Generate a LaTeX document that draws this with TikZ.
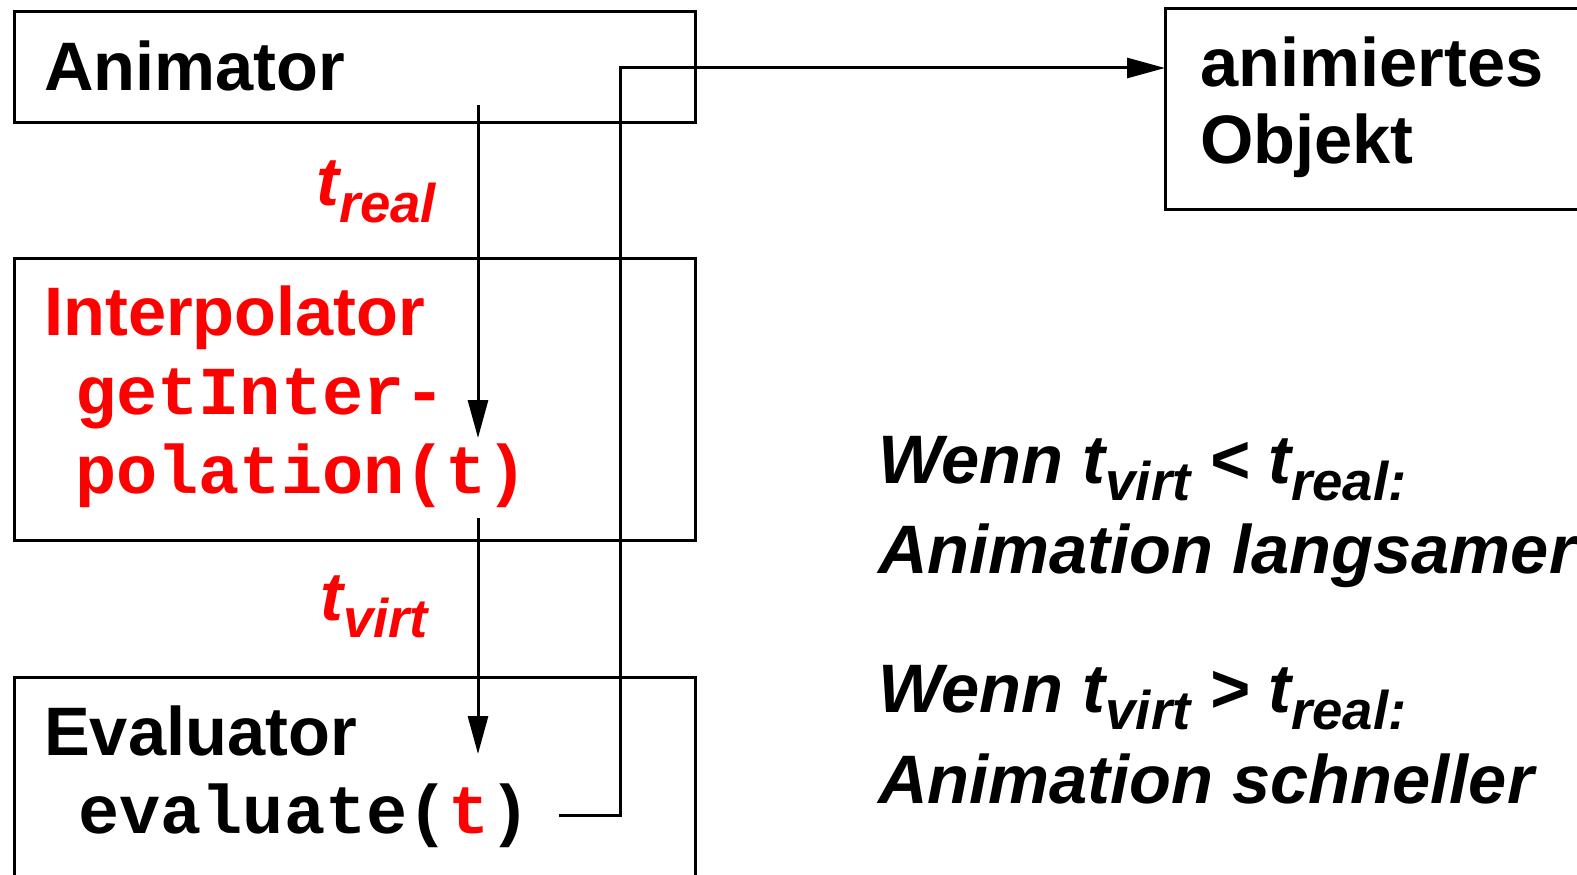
\documentclass[tikz,border=0pt]{standalone}
\usepackage{fontspec}
\setmainfont{Liberation Sans}
\setmonofont{Liberation Mono}
\usetikzlibrary{arrows.meta}
\definecolor{hl}{RGB}{255,0,0}
% type sizes (1 unit = 1pt)
\newcommand{\bigf}{\fontsize{68.6}{78}\selectfont}
\newcommand{\subf}{\fontsize{54.5}{60}\selectfont}
\newcommand{\tsub}[1]{t\raisebox{-17pt}{\subf #1}}
\tikzset{
  box/.style={draw, line width=3pt, anchor=north west, inner sep=0pt, outer sep=0pt},
  txt/.style={anchor=base west, inner sep=0pt, font=\bfseries\bigf},
  itx/.style={anchor=base west, inner sep=0pt, font=\bfseries\itshape\bigf},
  code/.style={anchor=base west, inner sep=0pt, font=\ttfamily\bfseries\bigf},
  conn/.style={line width=3pt, -{Triangle[length=38pt,width=20pt]}},
  wire/.style={line width=3pt},
}
\begin{document}
\begin{tikzpicture}[x=1pt,y=-1pt]
\useasboundingbox (0,0) rectangle (1577,875);

% boxes
\node[box, minimum width=681pt, minimum height=110pt] (animator) at (14,12) {};
\node[box, minimum width=681pt, minimum height=282pt] (interp) at (14,258) {};
\node[box, minimum width=681pt, minimum height=240pt] (evaluator) at (14,677) {};
\node[box, minimum width=440pt, minimum height=200pt] (obj) at (1165,9) {};

% box captions
\node[txt] (animlbl) at (44,90) {Animator};
\node[txt, text=hl] (interplbl) at (44,335) {Interpolator};
\node[code, text=hl] (interpc1) at (75,414) {getInter-};
\node[code, text=hl] (interpc2) at (75,493) {polation(t)};
\node[txt] (evallbl) at (44,755) {Evaluator};
\node[code] (evalc) at (78,833) {evaluate(\textcolor{hl}{t})};
\node[txt] (objl1) at (1200,86) {animiertes};
\node[txt] (objl2) at (1200,163) {Objekt};

% time labels
\node[itx, text=hl] (treal) at (316,205) {\tsub{real}};
\node[itx, text=hl] (tvirt) at (320,620) {\tsub{virt}};

% remarks
\node[itx] (r1) at (878,483) {Wenn \tsub{virt} < \tsub{real:}};
\node[itx] (r2) at (878,573) {Animation langsamer};
\node[itx] (r3) at (878,712) {Wenn \tsub{virt} > \tsub{real:}};
\node[itx] (r4) at (878,803) {Animation schneller};

% connector ends
\coordinate (a-out) at (478,105);
\coordinate (i-in) at (478,438);
\coordinate (i-out) at (478,518);
\coordinate (e-in) at (478,754);
\coordinate (e-out) at (559,815);
\coordinate (bus) at (620,68);

\draw[conn] (a-out) -- (i-in);
\draw[conn] (i-out) -- (e-in);
\draw[conn] (e-out) -- (e-out -| bus) -- (bus) -- (bus -| obj.west);
\end{tikzpicture}
\end{document}
